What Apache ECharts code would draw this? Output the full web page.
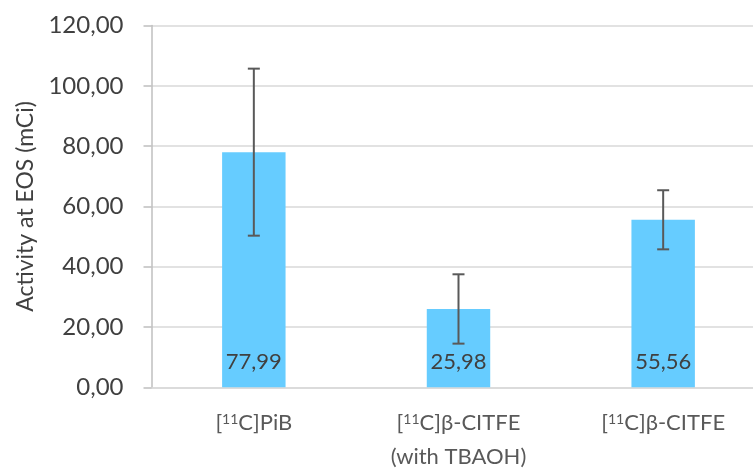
<!DOCTYPE html>
<html><head><meta charset="utf-8">
<script src="https://cdn.jsdelivr.net/npm/echarts@6/dist/echarts.min.js"></script>
<style>html,body{margin:0;padding:0;background:#fff}#c{width:753px;height:471px}</style>
</head><body><div id="c"></div>
<script>
var categories = ['[11C]PiB', '[11C]β-CITFE\n(with TBAOH)', '[11C]β-CITFE'];
var values = [77.99, 25.98, 55.56];
var errors = [27.7, 11.5, 9.8];
var yTicks = [0, 20, 40, 60, 80, 100, 120];
var yName = 'Activity at EOS (mCi)';

var FONT = 'Lato';
var chart = echarts.init(document.getElementById('c'), null, {renderer: 'canvas'});
function fmt(v){ return v.toFixed(2).replace('.', ','); }
chart.setOption({
  animation: false,
  textStyle: {fontFamily: FONT},
  grid: {left: 151.5, top: 25.5, width: 614, bottom: 83.7, containLabel: false, outerBoundsMode: 'none'},
  xAxis: {
    type: 'category', data: categories,
    axisLine: {lineStyle: {color: '#D9D9D9', width: 1.5}},
    axisTick: {show: false},
    axisLabel: {
      interval: 0,
      margin: 19, color: '#595959', fontSize: 22, fontFamily: FONT, lineHeight: 34,
      formatter: function(v){ return v.replace(/11/g, '{sup|11}'); },
      rich: {sup: {fontSize: 14, color: '#595959', fontFamily: FONT, padding: [0,0,8,0]}}
    }
  },
  yAxis: {
    type: 'value', min: yTicks[0], max: yTicks[yTicks.length-1], interval: 20,
    name: yName, nameLocation: 'middle', nameGap: 114, nameRotate: 90,
    nameTextStyle: {fontSize: 23, color: '#404040', fontFamily: FONT},
    axisLine: {show: true, lineStyle: {color: '#BFBFBF', width: 1.5}},
    axisTick: {show: true, inside: false, length: 8, lineStyle: {color: '#BFBFBF', width: 1.5}},
    splitLine: {lineStyle: {color: '#D9D9D9', width: 1.5}},
    axisLabel: {margin: 28, color: '#404040', fontSize: 24, fontFamily: FONT, formatter: function(v){ return fmt(v); }}
  },
  series: [{
    type: 'bar', data: values, barWidth: '31%',
    itemStyle: {color: '#66CCFF'},
    label: {show: true, position: 'insideBottom', distance: 14, color: '#404040', fontSize: 22, fontFamily: FONT,
      formatter: function(p){ return fmt(p.value); }},
    z: 2
  }, {
    type: 'custom', z: 5,
    data: values.map(function(v, i){ return [i, v - errors[i], v + errors[i]]; }),
    renderItem: function(params, api){
      var x = api.value(0);
      var lo = api.coord([x, api.value(1)]);
      var hi = api.coord([x, api.value(2)]);
      var cap = 6;
      var st = {stroke: '#595959', lineWidth: 2};
      return {type: 'group', children: [
        {type: 'line', shape: {x1: lo[0], y1: lo[1], x2: hi[0], y2: hi[1]}, style: st},
        {type: 'line', shape: {x1: lo[0]-cap, y1: lo[1], x2: lo[0]+cap, y2: lo[1]}, style: st},
        {type: 'line', shape: {x1: hi[0]-cap, y1: hi[1], x2: hi[0]+cap, y2: hi[1]}, style: st}
      ]};
    }
  }]
});
</script></body></html>
